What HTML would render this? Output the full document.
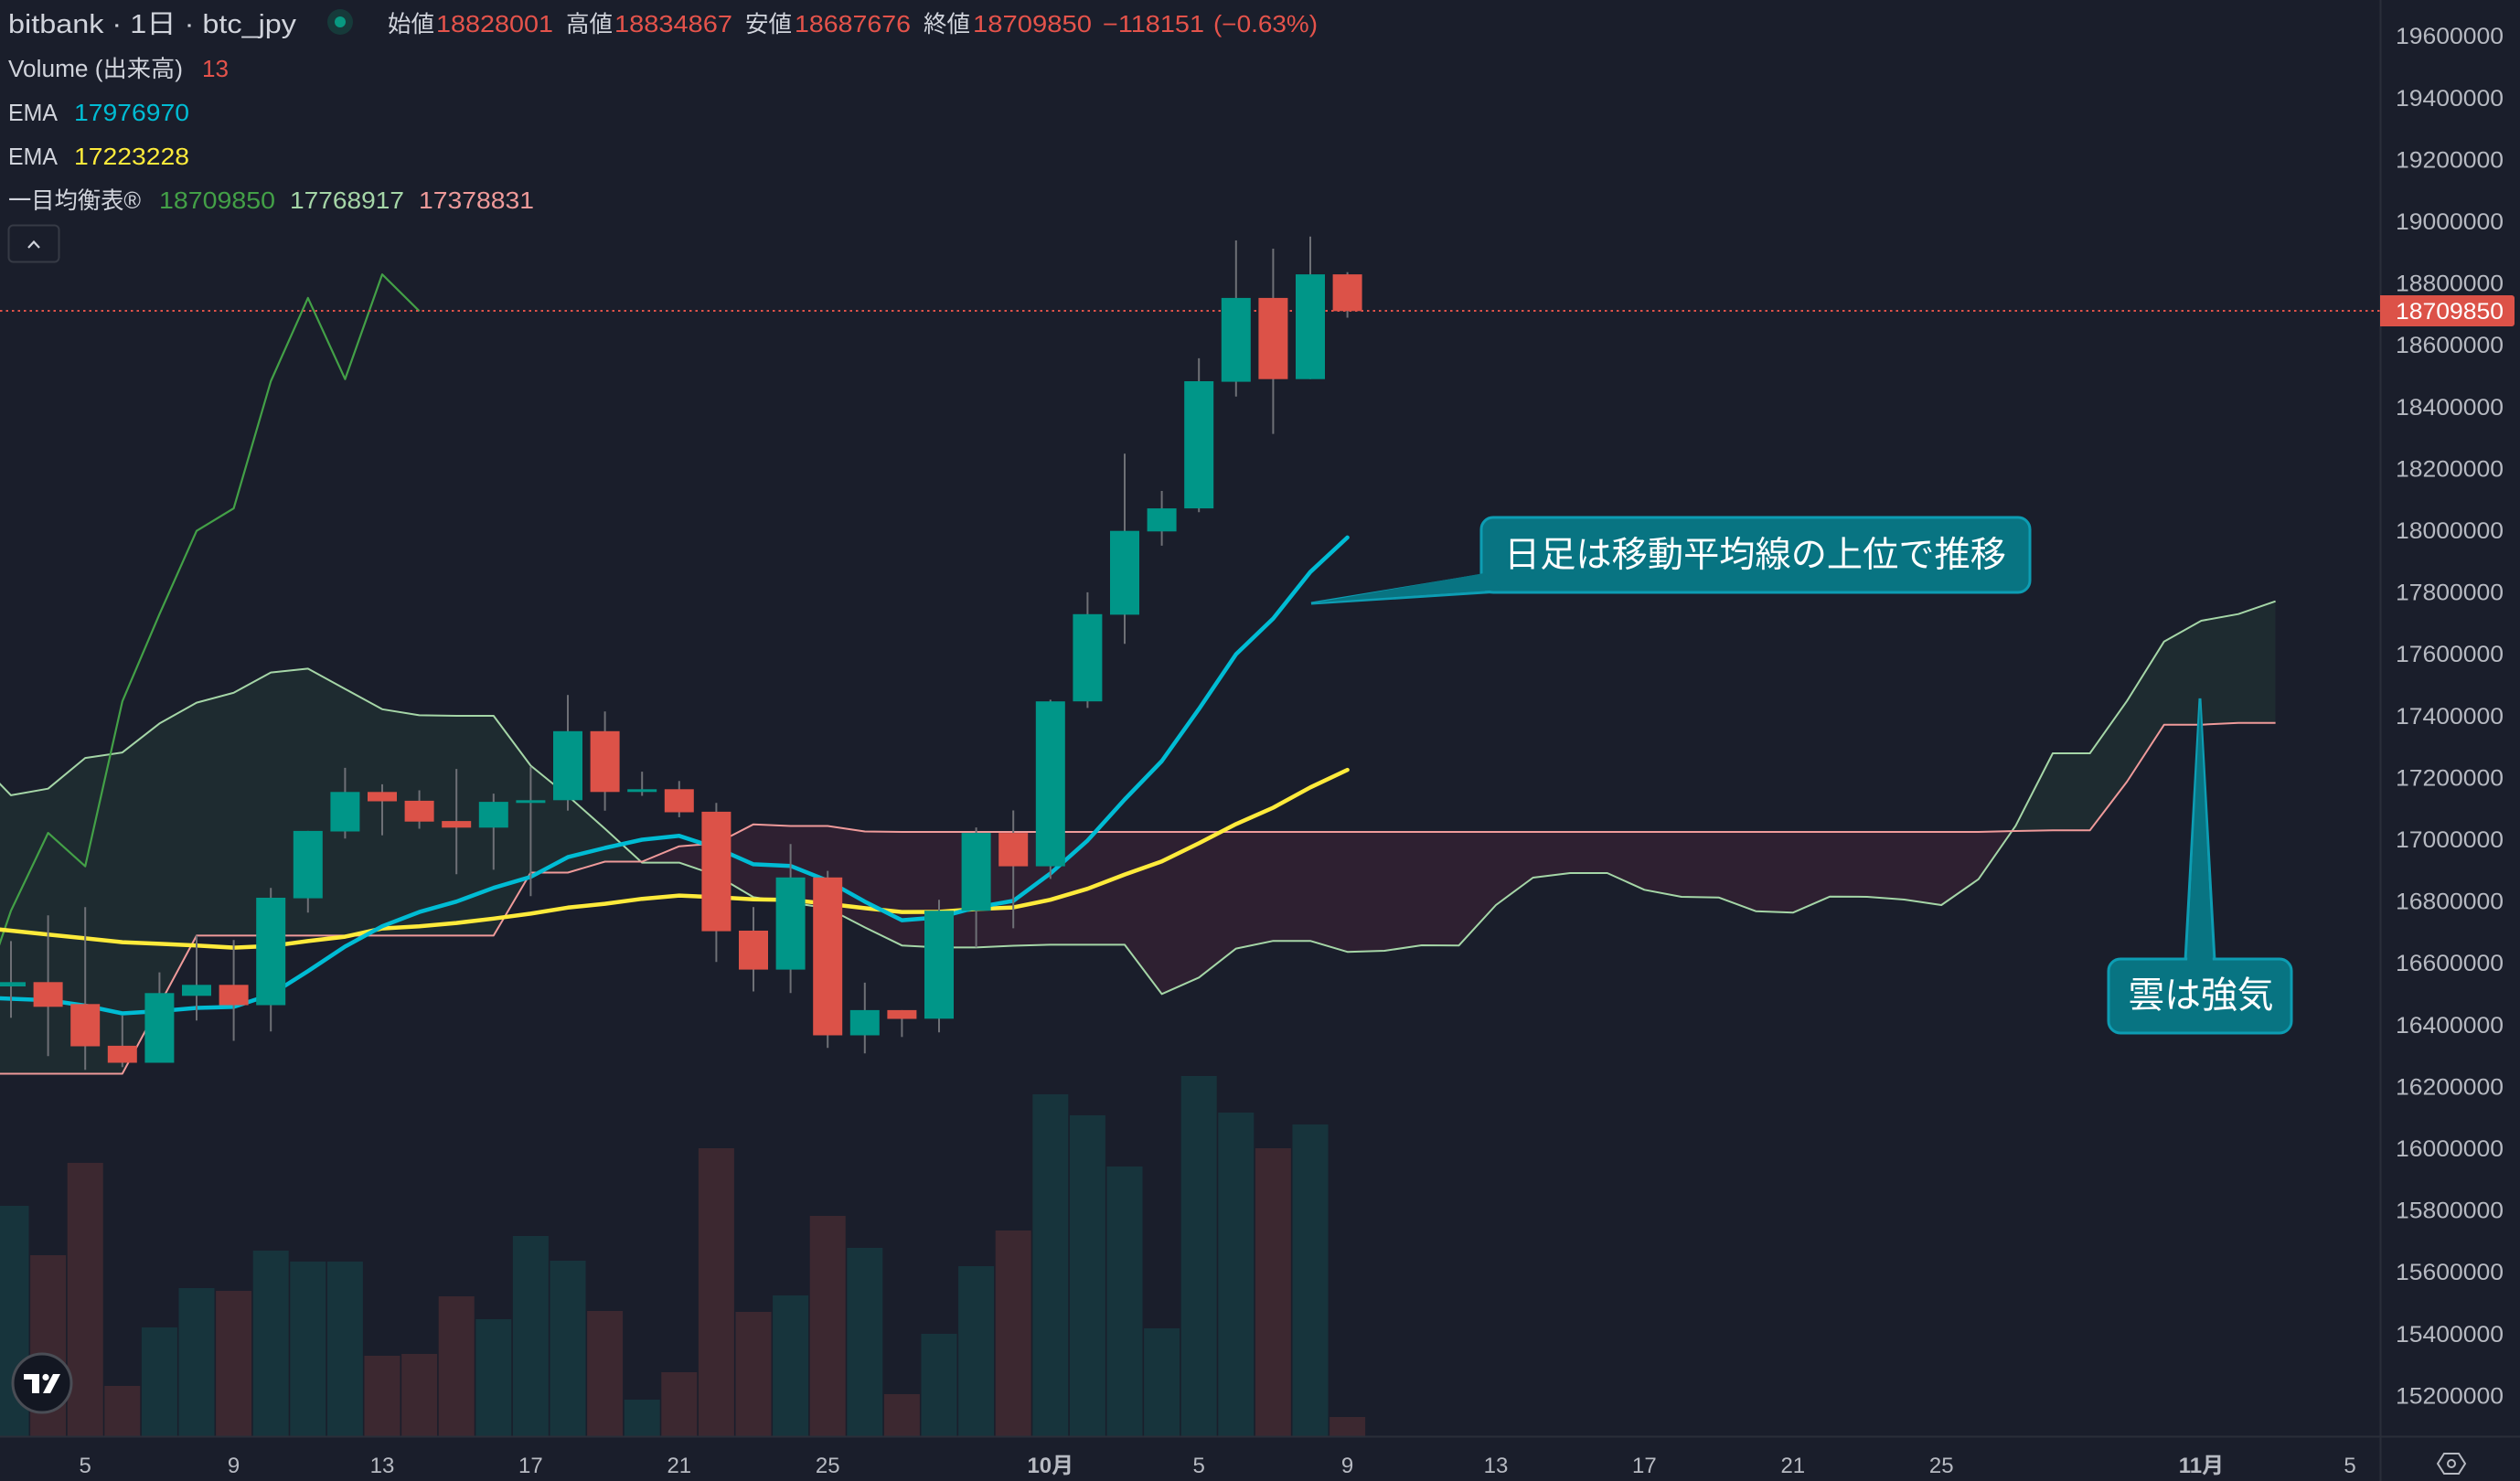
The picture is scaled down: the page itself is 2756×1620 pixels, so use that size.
<!DOCTYPE html>
<html><head><meta charset="utf-8"><style>
html,body{margin:0;padding:0;background:#1a1e2b;}
svg{display:block;}
text{font-family:"Liberation Sans","Noto Sans CJK JP",sans-serif;}
</style></head><body>
<svg width="2756" height="1620" viewBox="0 0 2756 1620" xmlns="http://www.w3.org/2000/svg">
<rect x="0" y="0" width="2756" height="1620" fill="#1a1e2b"/>
<defs>
<clipPath id="abv"><polygon points="-28.6,1174.5 133.8,1174.5 174.4,1099 215,1023.4 539.8,1023.4 580.4,954.5 621,954.5 661.6,942.5 702.2,942.5 742.8,925.7 783.4,922.6 824,901.7 864.6,903.5 905.2,903.5 945.8,909.5 986.4,910 2163.8,910 2204.4,909 2245,908.3 2285.6,908.3 2326.2,855 2366.8,792.7 2407.4,792.7 2448,790.7 2488.6,790.7 2488.6,0 -28.6,0"/></clipPath>
<clipPath id="blw"><polygon points="-28.6,1174.5 133.8,1174.5 174.4,1099 215,1023.4 539.8,1023.4 580.4,954.5 621,954.5 661.6,942.5 702.2,942.5 742.8,925.7 783.4,922.6 824,901.7 864.6,903.5 905.2,903.5 945.8,909.5 986.4,910 2163.8,910 2204.4,909 2245,908.3 2285.6,908.3 2326.2,855 2366.8,792.7 2407.4,792.7 2448,790.7 2488.6,790.7 2488.6,1620 -28.6,1620"/></clipPath>
<clipPath id="plot"><rect x="0" y="0" width="2603" height="1571"/></clipPath>
</defs>

<g clip-path="url(#plot)">
<!-- volume -->
<g>
<rect x="-7.5" y="1319" width="39" height="252" fill="#17343c"/>
<rect x="33.1" y="1373" width="39" height="198" fill="#3c2830"/>
<rect x="73.7" y="1272" width="39" height="299" fill="#3c2830"/>
<rect x="114.3" y="1516" width="39" height="55" fill="#3c2830"/>
<rect x="154.9" y="1452" width="39" height="119" fill="#17343c"/>
<rect x="195.5" y="1409" width="39" height="162" fill="#17343c"/>
<rect x="236.1" y="1412" width="39" height="159" fill="#3c2830"/>
<rect x="276.7" y="1368" width="39" height="203" fill="#17343c"/>
<rect x="317.3" y="1380" width="39" height="191" fill="#17343c"/>
<rect x="357.9" y="1380" width="39" height="191" fill="#17343c"/>
<rect x="398.5" y="1483" width="39" height="88" fill="#3c2830"/>
<rect x="439.1" y="1481" width="39" height="90" fill="#3c2830"/>
<rect x="479.7" y="1418" width="39" height="153" fill="#3c2830"/>
<rect x="520.3" y="1443" width="39" height="128" fill="#17343c"/>
<rect x="560.9" y="1352" width="39" height="219" fill="#17343c"/>
<rect x="601.5" y="1379" width="39" height="192" fill="#17343c"/>
<rect x="642.1" y="1434" width="39" height="137" fill="#3c2830"/>
<rect x="682.7" y="1531" width="39" height="40" fill="#17343c"/>
<rect x="723.3" y="1501" width="39" height="70" fill="#3c2830"/>
<rect x="763.9" y="1256" width="39" height="315" fill="#3c2830"/>
<rect x="804.5" y="1435" width="39" height="136" fill="#3c2830"/>
<rect x="845.1" y="1417" width="39" height="154" fill="#17343c"/>
<rect x="885.7" y="1330" width="39" height="241" fill="#3c2830"/>
<rect x="926.3" y="1365" width="39" height="206" fill="#17343c"/>
<rect x="966.9" y="1525" width="39" height="46" fill="#3c2830"/>
<rect x="1007.5" y="1459" width="39" height="112" fill="#17343c"/>
<rect x="1048.1" y="1385" width="39" height="186" fill="#17343c"/>
<rect x="1088.7" y="1346" width="39" height="225" fill="#3c2830"/>
<rect x="1129.3" y="1197" width="39" height="374" fill="#17343c"/>
<rect x="1169.9" y="1220" width="39" height="351" fill="#17343c"/>
<rect x="1210.5" y="1276" width="39" height="295" fill="#17343c"/>
<rect x="1251.1" y="1453" width="39" height="118" fill="#17343c"/>
<rect x="1291.7" y="1177" width="39" height="394" fill="#17343c"/>
<rect x="1332.3" y="1217" width="39" height="354" fill="#17343c"/>
<rect x="1372.9" y="1256" width="39" height="315" fill="#3c2830"/>
<rect x="1413.5" y="1230" width="39" height="341" fill="#17343c"/>
<rect x="1454.1" y="1550" width="39" height="21" fill="#3c2830"/>
</g>

<!-- cloud fill -->
<g id="cloudfill">
<polygon clip-path="url(#abv)" fill="#1e2b30" points="-28.6,828 12,869.9 52.6,862.7 93.2,829.1 133.8,823.1 174.4,791.4 215,768.6 255.6,757.8 296.2,735.6 336.8,731.4 377.4,753.6 418,775.8 458.6,782.4 499.2,783 539.8,783 580.4,837.5 621,870.5 661.6,906.5 702.2,943.6 742.8,943.6 783.4,957.4 824,981.4 864.6,987.4 905.2,993.4 945.8,1014.4 986.4,1034.2 1027,1036.4 1067.6,1036.4 1108.2,1034.5 1148.8,1033.4 1189.4,1033.4 1230,1033.4 1270.6,1087.3 1311.2,1069.3 1351.8,1037.6 1392.4,1029.2 1433,1029.2 1473.6,1041.2 1514.2,1040 1554.8,1034 1595.4,1034.3 1636,990 1676.6,960 1717.2,955 1757.8,955 1798.4,973.3 1839,981 1879.6,981.7 1920.2,996.7 1960.8,998.3 2001.4,980.7 2042,981 2082.6,984 2123.2,990 2163.8,961.7 2204.4,903.3 2245,824 2285.6,824 2326.2,766.7 2366.8,701.7 2407.4,679 2448,671.7 2488.6,657.7 2488.6,790.7 2448,790.7 2407.4,792.7 2366.8,792.7 2326.2,855 2285.6,908.3 2245,908.3 2204.4,909 2163.8,910 986.4,910 945.8,909.5 905.2,903.5 864.6,903.5 824,901.7 783.4,922.6 742.8,925.7 702.2,942.5 661.6,942.5 621,954.5 580.4,954.5 539.8,1023.4 215,1023.4 174.4,1099 133.8,1174.5 -28.6,1174.5"/>
<polygon clip-path="url(#blw)" fill="#2e2031" points="-28.6,828 12,869.9 52.6,862.7 93.2,829.1 133.8,823.1 174.4,791.4 215,768.6 255.6,757.8 296.2,735.6 336.8,731.4 377.4,753.6 418,775.8 458.6,782.4 499.2,783 539.8,783 580.4,837.5 621,870.5 661.6,906.5 702.2,943.6 742.8,943.6 783.4,957.4 824,981.4 864.6,987.4 905.2,993.4 945.8,1014.4 986.4,1034.2 1027,1036.4 1067.6,1036.4 1108.2,1034.5 1148.8,1033.4 1189.4,1033.4 1230,1033.4 1270.6,1087.3 1311.2,1069.3 1351.8,1037.6 1392.4,1029.2 1433,1029.2 1473.6,1041.2 1514.2,1040 1554.8,1034 1595.4,1034.3 1636,990 1676.6,960 1717.2,955 1757.8,955 1798.4,973.3 1839,981 1879.6,981.7 1920.2,996.7 1960.8,998.3 2001.4,980.7 2042,981 2082.6,984 2123.2,990 2163.8,961.7 2204.4,903.3 2245,824 2285.6,824 2326.2,766.7 2366.8,701.7 2407.4,679 2448,671.7 2488.6,657.7 2488.6,790.7 2448,790.7 2407.4,792.7 2366.8,792.7 2326.2,855 2285.6,908.3 2245,908.3 2204.4,909 2163.8,910 986.4,910 945.8,909.5 905.2,903.5 864.6,903.5 824,901.7 783.4,922.6 742.8,925.7 702.2,942.5 661.6,942.5 621,954.5 580.4,954.5 539.8,1023.4 215,1023.4 174.4,1099 133.8,1174.5 -28.6,1174.5"/>
</g>

<!-- senkou lines -->
<polyline fill="none" stroke="#a5d6a7" stroke-width="2" stroke-linejoin="round" points="-28.6,828 12,869.9 52.6,862.7 93.2,829.1 133.8,823.1 174.4,791.4 215,768.6 255.6,757.8 296.2,735.6 336.8,731.4 377.4,753.6 418,775.8 458.6,782.4 499.2,783 539.8,783 580.4,837.5 621,870.5 661.6,906.5 702.2,943.6 742.8,943.6 783.4,957.4 824,981.4 864.6,987.4 905.2,993.4 945.8,1014.4 986.4,1034.2 1027,1036.4 1067.6,1036.4 1108.2,1034.5 1148.8,1033.4 1189.4,1033.4 1230,1033.4 1270.6,1087.3 1311.2,1069.3 1351.8,1037.6 1392.4,1029.2 1433,1029.2 1473.6,1041.2 1514.2,1040 1554.8,1034 1595.4,1034.3 1636,990 1676.6,960 1717.2,955 1757.8,955 1798.4,973.3 1839,981 1879.6,981.7 1920.2,996.7 1960.8,998.3 2001.4,980.7 2042,981 2082.6,984 2123.2,990 2163.8,961.7 2204.4,903.3 2245,824 2285.6,824 2326.2,766.7 2366.8,701.7 2407.4,679 2448,671.7 2488.6,657.7"/>
<polyline fill="none" stroke="#ef9a9a" stroke-width="2" stroke-linejoin="round" points="-28.6,1174.5 133.8,1174.5 174.4,1099 215,1023.4 539.8,1023.4 580.4,954.5 621,954.5 661.6,942.5 702.2,942.5 742.8,925.7 783.4,922.6 824,901.7 864.6,903.5 905.2,903.5 945.8,909.5 986.4,910 2163.8,910 2204.4,909 2245,908.3 2285.6,908.3 2326.2,855 2366.8,792.7 2407.4,792.7 2448,790.7 2488.6,790.7"/>

<!-- chikou -->
<polyline fill="none" stroke="#43a047" stroke-width="2.2" stroke-linejoin="round" points="-28.6,1114.5 12,996.2 52.6,911.1 93.2,947.6 133.8,767.2 174.4,671.8 215,580.7 255.6,556.1 296.2,417 336.8,325.9 377.4,414.7 418,300.1 458.6,340.3"/>

<!-- price line -->
<line x1="0" y1="340" x2="2603" y2="340" stroke="#e0524a" stroke-width="2" stroke-dasharray="2.5 4"/>

<!-- EMAs -->
<polyline fill="none" stroke="#ffeb3b" stroke-width="4.5" stroke-linejoin="round" stroke-linecap="round" points="-28.6,1014 12,1018 52.6,1022.2 93.2,1026.4 133.8,1030.6 174.4,1032.4 215,1034.2 255.6,1036.6 296.2,1034.8 336.8,1029.4 377.4,1024.6 418,1015.6 458.6,1013.2 499.2,1009.6 539.8,1004.8 580.4,999.4 621,992.8 661.6,988.6 702.2,983.2 742.8,979.6 783.4,981.4 824,983.8 864.6,984.4 905.2,988.6 945.8,993.4 986.4,997.6 1027,997.4 1067.6,994.4 1108.2,992.6 1148.8,984.2 1189.4,972.2 1230,956.6 1270.6,942.2 1311.2,922.4 1351.8,901.4 1392.4,883.5 1433,861.3 1473.6,842.1"/>
<polyline fill="none" stroke="#00bcd4" stroke-width="4.5" stroke-linejoin="round" stroke-linecap="round" points="-28.6,1091 12,1092.5 52.6,1094.1 93.2,1100 133.8,1108.5 174.4,1106 215,1102.5 255.6,1101.3 296.2,1088 336.8,1062.3 377.4,1035.4 418,1013.2 458.6,997.6 499.2,986.2 539.8,971.2 580.4,959.2 621,937.6 661.6,927.5 702.2,918.5 742.8,914.3 783.4,927.5 824,945.4 864.6,947.2 905.2,963.4 945.8,986.2 986.4,1006.6 1027,1003.4 1067.6,992.6 1108.2,985.4 1148.8,955.4 1189.4,919.4 1230,874.5 1270.6,832.5 1311.2,775.6 1351.8,715.6 1392.4,676.6 1433,625.7 1473.6,587.9"/>

<!-- wicks -->
<g stroke="#6e7076" stroke-width="2">
<line x1="12" y1="1029.4" x2="12" y2="1113.3"/>
<line x1="52.6" y1="1001.2" x2="52.6" y2="1155.3"/>
<line x1="93.2" y1="992.2" x2="93.2" y2="1170.3"/>
<line x1="133.8" y1="1110.9" x2="133.8" y2="1167.3"/>
<line x1="174.4" y1="1063.6" x2="174.4" y2="1162.5"/>
<line x1="215" y1="1023.4" x2="215" y2="1116.3"/>
<line x1="255.6" y1="1028.2" x2="255.6" y2="1138.5"/>
<line x1="296.2" y1="971.2" x2="296.2" y2="1128.3"/>
<line x1="336.8" y1="908.9" x2="336.8" y2="998.2"/>
<line x1="377.4" y1="839.9" x2="377.4" y2="917.3"/>
<line x1="418" y1="857.9" x2="418" y2="913.7"/>
<line x1="458.6" y1="864.5" x2="458.6" y2="906.5"/>
<line x1="499.2" y1="841.1" x2="499.2" y2="956.2"/>
<line x1="539.8" y1="868.1" x2="539.8" y2="951.4"/>
<line x1="580.4" y1="838.7" x2="580.4" y2="980.2"/>
<line x1="621" y1="760.2" x2="621" y2="886.7"/>
<line x1="661.6" y1="778.2" x2="661.6" y2="886.7"/>
<line x1="702.2" y1="844.1" x2="702.2" y2="870.5"/>
<line x1="742.8" y1="854.3" x2="742.8" y2="893.9"/>
<line x1="783.4" y1="878.3" x2="783.4" y2="1052.2"/>
<line x1="824" y1="992.2" x2="824" y2="1084.5"/>
<line x1="864.6" y1="923.3" x2="864.6" y2="1086.3"/>
<line x1="905.2" y1="952.6" x2="905.2" y2="1146.3"/>
<line x1="945.8" y1="1074.9" x2="945.8" y2="1152.3"/>
<line x1="986.4" y1="1104.9" x2="986.4" y2="1134.3"/>
<line x1="1027" y1="984.2" x2="1027" y2="1129.3"/>
<line x1="1067.6" y1="905.1" x2="1067.6" y2="1036.4"/>
<line x1="1108.2" y1="886.5" x2="1108.2" y2="1015.4"/>
<line x1="1148.8" y1="765.4" x2="1148.8" y2="961.4"/>
<line x1="1189.4" y1="647.9" x2="1189.4" y2="774.4"/>
<line x1="1230" y1="496.2" x2="1230" y2="704.2"/>
<line x1="1270.6" y1="537" x2="1270.6" y2="596.9"/>
<line x1="1311.2" y1="391.9" x2="1311.2" y2="560.3"/>
<line x1="1351.8" y1="263" x2="1351.8" y2="433.8"/>
<line x1="1392.4" y1="272" x2="1392.4" y2="474.6"/>
<line x1="1433" y1="258.8" x2="1433" y2="414.7"/>
<line x1="1473.6" y1="297.7" x2="1473.6" y2="347.5"/>
</g>

<!-- bodies -->
<g>
<rect x="-4" y="1074.3" width="32" height="4.7" fill="#009688"/>
<rect x="36.6" y="1074.3" width="32" height="27" fill="#dc5248"/>
<rect x="77.2" y="1098.3" width="32" height="46.2" fill="#dc5248"/>
<rect x="117.8" y="1143.9" width="32" height="18.6" fill="#dc5248"/>
<rect x="158.4" y="1086.3" width="32" height="76.2" fill="#009688"/>
<rect x="199" y="1077.3" width="32" height="12" fill="#009688"/>
<rect x="239.6" y="1077.3" width="32" height="22.2" fill="#dc5248"/>
<rect x="280.2" y="982" width="32" height="117.5" fill="#009688"/>
<rect x="320.8" y="908.9" width="32" height="73.7" fill="#009688"/>
<rect x="361.4" y="866.3" width="32" height="43.2" fill="#009688"/>
<rect x="402" y="866.3" width="32" height="10.2" fill="#dc5248"/>
<rect x="442.6" y="875.9" width="32" height="22.8" fill="#dc5248"/>
<rect x="483.2" y="898.1" width="32" height="7.2" fill="#dc5248"/>
<rect x="523.8" y="877.1" width="32" height="28.2" fill="#009688"/>
<rect x="564.4" y="875.3" width="32" height="3" fill="#009688"/>
<rect x="605" y="799.8" width="32" height="75.5" fill="#009688"/>
<rect x="645.6" y="799.8" width="32" height="66.5" fill="#dc5248"/>
<rect x="686.2" y="863.3" width="32" height="3" fill="#009688"/>
<rect x="726.8" y="863.3" width="32" height="25.2" fill="#dc5248"/>
<rect x="767.4" y="887.9" width="32" height="130.7" fill="#dc5248"/>
<rect x="808" y="1018" width="32" height="42.6" fill="#dc5248"/>
<rect x="848.6" y="959.8" width="32" height="100.8" fill="#009688"/>
<rect x="889.2" y="959.8" width="32" height="172.7" fill="#dc5248"/>
<rect x="929.8" y="1104.9" width="32" height="27.6" fill="#009688"/>
<rect x="970.4" y="1104.9" width="32" height="9.6" fill="#dc5248"/>
<rect x="1011" y="996.2" width="32" height="118.1" fill="#009688"/>
<rect x="1051.6" y="911.1" width="32" height="85.1" fill="#009688"/>
<rect x="1092.2" y="911.1" width="32" height="36.5" fill="#dc5248"/>
<rect x="1132.8" y="767.2" width="32" height="180.4" fill="#009688"/>
<rect x="1173.4" y="671.8" width="32" height="95.4" fill="#009688"/>
<rect x="1214" y="580.7" width="32" height="91.7" fill="#009688"/>
<rect x="1254.6" y="556.1" width="32" height="25.2" fill="#009688"/>
<rect x="1295.2" y="417" width="32" height="139.1" fill="#009688"/>
<rect x="1335.8" y="325.9" width="32" height="91.7" fill="#009688"/>
<rect x="1376.4" y="325.9" width="32" height="88.8" fill="#dc5248"/>
<rect x="1417" y="300.1" width="32" height="114.6" fill="#009688"/>
<rect x="1457.6" y="300.1" width="32" height="40.2" fill="#dc5248"/>
</g>

<!-- callout 1 -->
<polygon points="1622,629 1434,660 1640,647" fill="#087482" stroke="#0d9db3" stroke-width="3" stroke-linejoin="miter"/>
<rect x="1620" y="566" width="600" height="82" rx="13" ry="13" fill="#087482" stroke="#0d9db3" stroke-width="3"/>
<polygon points="1623,627 1440,659 1642,645" fill="#087482"/>
<text x="1919.5" y="620" font-size="39" fill="#ffffff" text-anchor="middle" textLength="549" lengthAdjust="spacingAndGlyphs">日足は移動平均線の上位で推移</text>

<!-- callout 2 -->
<polygon points="2390,1051 2406,764 2422,1051" fill="#087482" stroke="#0d9db3" stroke-width="3"/>
<rect x="2306" y="1049" width="200" height="81" rx="13" ry="13" fill="#087482" stroke="#0d9db3" stroke-width="3"/>
<polygon points="2392,1053 2406,770 2420,1053" fill="#087482"/>
<text x="2407" y="1102" font-size="40" fill="#ffffff" text-anchor="middle" textLength="159" lengthAdjust="spacingAndGlyphs">雲は強気</text>

<!-- TV logo -->
<circle cx="46" cy="1513" r="32" fill="#131722" stroke="#4a4d55" stroke-width="3"/>
<g fill="#ffffff">
<rect x="26" y="1503" width="17" height="6"/>
<rect x="35" y="1503" width="8" height="21"/>
<circle cx="50" cy="1506.5" r="3.6"/>
<polygon points="58,1503 66,1503 55,1524 47,1524"/>
</g>
</g>

<!-- axes separators -->
<line x1="2603.5" y1="0" x2="2603.5" y2="1620" stroke="#2a2e39" stroke-width="2"/>
<line x1="0" y1="1571.5" x2="2756" y2="1571.5" stroke="#2a2e39" stroke-width="2"/>

<!-- price axis labels -->
<g font-size="25" fill="#b7bac2">
<text x="2620" y="48.2" textLength="118" lengthAdjust="spacingAndGlyphs">19600000</text>
<text x="2620" y="115.8" textLength="118" lengthAdjust="spacingAndGlyphs">19400000</text>
<text x="2620" y="183.4" textLength="118" lengthAdjust="spacingAndGlyphs">19200000</text>
<text x="2620" y="251" textLength="118" lengthAdjust="spacingAndGlyphs">19000000</text>
<text x="2620" y="318.6" textLength="118" lengthAdjust="spacingAndGlyphs">18800000</text>
<text x="2620" y="386.2" textLength="118" lengthAdjust="spacingAndGlyphs">18600000</text>
<text x="2620" y="453.8" textLength="118" lengthAdjust="spacingAndGlyphs">18400000</text>
<text x="2620" y="521.4" textLength="118" lengthAdjust="spacingAndGlyphs">18200000</text>
<text x="2620" y="589" textLength="118" lengthAdjust="spacingAndGlyphs">18000000</text>
<text x="2620" y="656.6" textLength="118" lengthAdjust="spacingAndGlyphs">17800000</text>
<text x="2620" y="724.2" textLength="118" lengthAdjust="spacingAndGlyphs">17600000</text>
<text x="2620" y="791.8" textLength="118" lengthAdjust="spacingAndGlyphs">17400000</text>
<text x="2620" y="859.4" textLength="118" lengthAdjust="spacingAndGlyphs">17200000</text>
<text x="2620" y="927" textLength="118" lengthAdjust="spacingAndGlyphs">17000000</text>
<text x="2620" y="994.6" textLength="118" lengthAdjust="spacingAndGlyphs">16800000</text>
<text x="2620" y="1062.2" textLength="118" lengthAdjust="spacingAndGlyphs">16600000</text>
<text x="2620" y="1129.8" textLength="118" lengthAdjust="spacingAndGlyphs">16400000</text>
<text x="2620" y="1197.4" textLength="118" lengthAdjust="spacingAndGlyphs">16200000</text>
<text x="2620" y="1265" textLength="118" lengthAdjust="spacingAndGlyphs">16000000</text>
<text x="2620" y="1332.6" textLength="118" lengthAdjust="spacingAndGlyphs">15800000</text>
<text x="2620" y="1400.2" textLength="118" lengthAdjust="spacingAndGlyphs">15600000</text>
<text x="2620" y="1467.8" textLength="118" lengthAdjust="spacingAndGlyphs">15400000</text>
<text x="2620" y="1535.4" textLength="118" lengthAdjust="spacingAndGlyphs">15200000</text>
</g>
<path d="M2603,323 H2747 a3,3 0 0 1 3,3 V354 a3,3 0 0 1 -3,3 H2603 Z" fill="#dc5248"/>
<text x="2620" y="349" font-size="25" fill="#ffffff" textLength="118" lengthAdjust="spacingAndGlyphs">18709850</text>

<!-- time axis -->
<g font-size="24" fill="#b7bac2" text-anchor="middle">
<text x="93.2" y="1611">5</text>
<text x="255.6" y="1611">9</text>
<text x="418" y="1611">13</text>
<text x="580.4" y="1611">17</text>
<text x="742.8" y="1611">21</text>
<text x="905.2" y="1611">25</text>
<text x="1148.8" y="1611" font-weight="bold">10月</text>
<text x="1311.2" y="1611">5</text>
<text x="1473.6" y="1611">9</text>
<text x="1636" y="1611">13</text>
<text x="1798.4" y="1611">17</text>
<text x="1960.8" y="1611">21</text>
<text x="2123.2" y="1611">25</text>
<text x="2407.4" y="1611" font-weight="bold">11月</text>
<text x="2570" y="1611">5</text>
</g>
<polygon points="2666,1601 2673,1590 2689,1590 2696,1601 2689,1612 2673,1612" fill="none" stroke="#b7bac2" stroke-width="2"/>
<circle cx="2681" cy="1601" r="4" fill="none" stroke="#b7bac2" stroke-width="2"/>

<!-- header legend -->
<text x="9" y="36" font-size="29" fill="#d1d4dc" textLength="315" lengthAdjust="spacingAndGlyphs">bitbank · 1日 · btc_jpy</text>
<circle cx="372" cy="24" r="14" fill="#163a3a"/>
<circle cx="372" cy="24" r="6" fill="#089981"/>
<g font-size="25.5">
<text x="424" y="35" fill="#d1d4dc" textLength="51" lengthAdjust="spacingAndGlyphs">始値</text>
<text x="477" y="35" fill="#e5534b" textLength="128" lengthAdjust="spacingAndGlyphs">18828001</text>
<text x="619" y="35" fill="#d1d4dc" textLength="51" lengthAdjust="spacingAndGlyphs">高値</text>
<text x="672" y="35" fill="#e5534b" textLength="129" lengthAdjust="spacingAndGlyphs">18834867</text>
<text x="815" y="35" fill="#d1d4dc" textLength="51" lengthAdjust="spacingAndGlyphs">安値</text>
<text x="869" y="35" fill="#e5534b" textLength="127" lengthAdjust="spacingAndGlyphs">18687676</text>
<text x="1010" y="35" fill="#d1d4dc" textLength="51" lengthAdjust="spacingAndGlyphs">終値</text>
<text x="1064" y="35" fill="#e5534b" textLength="130" lengthAdjust="spacingAndGlyphs">18709850</text>
<text x="1206" y="35" fill="#e5534b" textLength="111" lengthAdjust="spacingAndGlyphs">−118151</text>
<text x="1327" y="35" fill="#e5534b" textLength="114" lengthAdjust="spacingAndGlyphs">(−0.63%)</text>

<text x="9" y="84" fill="#d1d4dc" textLength="191" lengthAdjust="spacingAndGlyphs">Volume (出来高)</text>
<text x="221" y="84" fill="#e5534b" textLength="29" lengthAdjust="spacingAndGlyphs">13</text>

<text x="9" y="132" fill="#d1d4dc" textLength="54" lengthAdjust="spacingAndGlyphs">EMA</text>
<text x="81" y="132" fill="#00bcd4" textLength="126" lengthAdjust="spacingAndGlyphs">17976970</text>

<text x="9" y="180" fill="#d1d4dc" textLength="54" lengthAdjust="spacingAndGlyphs">EMA</text>
<text x="81" y="180" fill="#ffeb3b" textLength="126" lengthAdjust="spacingAndGlyphs">17223228</text>

<text x="9" y="228" fill="#d1d4dc" textLength="145" lengthAdjust="spacingAndGlyphs">一目均衡表®</text>
<text x="174" y="228" fill="#43a047" textLength="127" lengthAdjust="spacingAndGlyphs">18709850</text>
<text x="317" y="228" fill="#a5d6a7" textLength="125" lengthAdjust="spacingAndGlyphs">17768917</text>
<text x="458" y="228" fill="#ef9a9a" textLength="126" lengthAdjust="spacingAndGlyphs">17378831</text>
</g>

<rect x="9.5" y="246.5" width="55" height="40" rx="5" fill="none" stroke="#363a45" stroke-width="2"/>
<polyline points="31,271 37,264.5 43,271" fill="none" stroke="#d1d4dc" stroke-width="2.2"/>
</svg>
</body></html>
